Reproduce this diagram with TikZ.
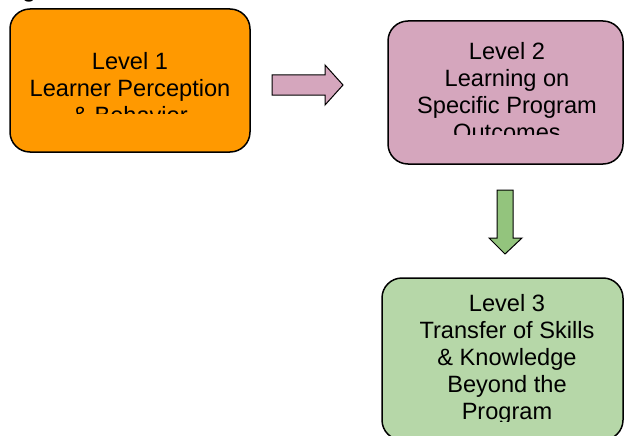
\documentclass[tikz,border=0pt]{standalone}
\usepackage{fontspec}
\setmainfont{Liberation Sans}
\definecolor{orangefill}{HTML}{FF9900}
\definecolor{pinkfill}{HTML}{D5A6BD}
\definecolor{greenfill}{HTML}{B6D7A8}
\definecolor{arrowgreen}{HTML}{93C47D}
\tikzset{
  levelbox/.style={draw=black, line width=1.5pt, rounded corners=20pt},
  leveltext/.style={align=center, anchor=base, inner sep=0pt,
    font=\fontsize{23.6}{27}\selectfont},
  blockarrow/.style={draw=black, line width=1pt, line join=miter},
}
\begin{document}
\begin{tikzpicture}[x=1pt,y=-1pt]
\useasboundingbox (0,0) rectangle (624,436);
\begin{scope}
\clip (0,0) rectangle (624,436);
% clipped title fragment
\node[anchor=base, inner sep=0pt, font=\bfseries\fontsize{22}{26}\selectfont] (title) at (29,-2) {g};
% boxes
\path[levelbox, fill=orangefill] (10,9) rectangle (250,152);
\path[levelbox, fill=pinkfill] (388,21) rectangle (623,164);
\path[levelbox, fill=greenfill] (382,278) rectangle (623,440);
% texts, clipped (anchor = baseline of last line)
\begin{scope}
\clip (12,11) rectangle (248,113);
\node[leveltext] (t1) at (130,123) {Level 1\\Learner Perception\\\& Behavior};
\end{scope}
\begin{scope}
\clip (390,23) rectangle (621,134);
\node[leveltext] (t2) at (507,140) {Level 2\\Learning on\\Specific Program\\Outcomes};
\end{scope}
\begin{scope}
\clip (384,280) rectangle (621,421.5);
\node[leveltext] (t3) at (507,419) {Level 3\\Transfer of Skills\\\& Knowledge\\Beyond the\\Program};
\end{scope}
% block arrows
\draw[blockarrow, fill=pinkfill] (272,75) -- (325,75) -- (325,65) -- (343,85) -- (325,105) -- (325,95) -- (272,95) -- cycle;
\draw[blockarrow, fill=arrowgreen] (497,190) -- (513,190) -- (513,238) -- (522,238) -- (505,254) -- (489,238) -- (497,238) -- cycle;
\end{scope}
\end{tikzpicture}
\end{document}
